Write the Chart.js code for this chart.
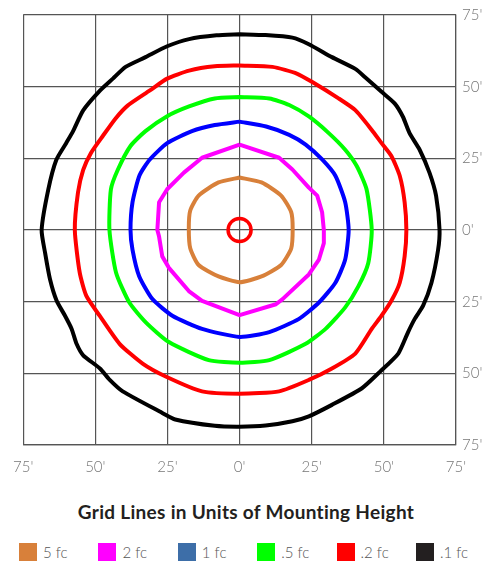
<!DOCTYPE html>
<html>
<head>
<meta charset="utf-8">
<script src="https://cdn.jsdelivr.net/npm/chart.js@4/dist/chart.umd.min.js"></script>
<style>
  body { margin: 0; background: #fff; font-family: Lato, "Noto Sans", sans-serif; }
  #wrap { position: relative; width: 495px; height: 564px; }
  #plot { position: absolute; left: 0; top: 0; width: 495px; height: 485px; }
  #title { position: absolute; left: 0; top: 500px; width: 492px; text-align: center;
           font-size: 19px; font-weight: bold; color: #231f20; letter-spacing: 0.3px; }
  .item { position: absolute; top: 543px; height: 18px; display: flex; align-items: center;
          font-size: 15px; font-weight: 300; color: #555; white-space: nowrap; }
  .item span.box { display: inline-block; width: 18px; height: 18px; margin-right: 6px; }
</style>
</head>
<body>
<div id="wrap">
  <div id="plot"><canvas id="chart"></canvas></div>
  <div id="title">Grid Lines in Units of Mounting Height</div>
  <div id="legend"></div>
</div>
<script>
// axis ticks (units of mounting height)
const gridTicks = [-75, -50, -25, 0, 25, 50, 75];
const tickLabels = ["75'", "50'", "25'", "0'", "25'", "50'", "75'"];

// legend
const legendLabels = ['5 fc', '2 fc', '1 fc', '.5 fc', '.2 fc', '.1 fc'];
const legendColors = ['#d8803a', '#ff00ff', '#3d6ea8', '#00ff00', '#ff0000', '#231f20'];
const lineColors = ['#d8803a', '#ff00ff', '#0000ff', '#00ff00', '#ff0000', '#000000'];

// isofootcandle contours, [x, y] in the grid units
const fc5 = [[0,18.3],[7.6,16.6],[14.4,12],[17.9,6.2],[18.4,0.4],[17.9,-6.4],[14.4,-12.2],[7.6,-16.2],
  [0,-18.2],[-7.3,-16.2],[-14.2,-12.2],[-17.1,-6.4],[-17.6,0.5],[-17.1,6.8],[-14.2,12],[-7.3,16.6],[0,18.3]];

const fc2 = [[0,29.8],[13.7,25.2],[18.3,21.1],[24,14.8],[26.9,12],[28.6,6.2],[29.2,0],[29.2,-4.6],
  [27.5,-10.3],[24,-15.5],[14.9,-24.1],[12.6,-25.9],[0,-29.7],[-13,-24.7],[-17.6,-21.3],[-24.5,-13.2],
  [-26.8,-9.2],[-27.9,-2.3],[-28.5,0],[-27.9,9.7],[-25.1,14.2],[-19.3,20],[-13,25.2],[0,29.8]];

const fc1 = [[0,37.8],[9.2,36.1],[17.2,33.2],[22.9,29.8],[28.6,24.6],[33.2,18.9],[36.6,9.7],[37.8,0],
  [36.6,-10.3],[33.2,-18.4],[27.5,-25.3],[20.6,-31],[10.3,-35.6],[0,-37.3],[-13,-34.5],[-23.3,-29.9],
  [-30.2,-24.1],[-34.8,-16.1],[-37.1,-6.9],[-37.8,0],[-37.1,9.7],[-34.7,19],[-31.2,24.5],[-25.1,30.3],
  [-16.5,34.5],[-8.6,36.6],[0,37.8]];

const fcHalf = [[0,46.4],[10.3,45.9],[17.2,43.6],[24,39.6],[30.9,33.8],[36.6,28],[40.6,22.3],[44,14.2],
  [45.8,0],[44.6,-11.5],[41.2,-19.6],[36.6,-27],[29.8,-34.5],[22.9,-39.7],[10.3,-45.4],[0,-46.3],
  [-10.7,-45.4],[-24.5,-39.1],[-32.5,-32.2],[-38.2,-25.3],[-42.8,-14.9],[-45.1,0],[-44.6,14.1],
  [-42.2,21],[-37.8,29.3],[-32.6,34.5],[-25.1,39.7],[-17.5,43.1],[-8.6,45.9],[0,46.4]];

const fcFifth = [[0,57.4],[11.4,56.9],[20,54.5],[25.2,51.6],[34.3,45.9],[40.1,41.8],[45.8,34.9],
  [49.2,30.3],[52.6,25.8],[55.5,18.9],[57.2,9.7],[57.8,0],[57.2,-9.2],[55.5,-18.4],[52.6,-24.7],
  [49.2,-29.9],[45.8,-34.5],[40.1,-43.1],[32,-48.3],[24,-52.3],[13.7,-56.3],[0,-57.1],[-13,-56.3],
  [-25.6,-51.1],[-33.6,-46.6],[-41.6,-39.7],[-48.5,-29.9],[-53.1,-23],[-55.4,-14.9],[-57.1,0],
  [-56,13.1],[-54.2,21],[-51.5,26.9],[-47.4,32.8],[-42.9,39],[-38.8,43.4],[-31.2,48.6],[-25.1,52.8],
  [-17.5,55.6],[-8.6,57.1],[0,57.4]];

const fcTenth = [[0,68.3],[9,68],[18.3,67.1],[24,64.8],[32,60.3],[40.1,56.2],[43.5,53.3],[49.2,48.2],
  [53.8,44.1],[56.6,39.5],[58.9,33.8],[62.4,28],[65.8,20],[68.1,11.9],[69.3,0],[68.8,-6.9],[66.5,-18.4],
  [63.6,-26.4],[60.7,-31],[58.4,-35.6],[55,-43.1],[48.7,-49.4],[42.4,-55.2],[32,-61],[24,-65],
  [18.3,-66.7],[9,-68.2],[0,-68.6],[-8.6,-68.3],[-22.3,-66.1],[-26.8,-63.8],[-40.5,-56.3],[-45,-52.3],
  [-48.4,-48.3],[-54.2,-43.7],[-56.5,-39.7],[-58.2,-34.5],[-60.5,-29.9],[-63.4,-24.7],[-65.7,-17.2],
  [-67.4,-8],[-68.6,0],[-66.3,14.1],[-63.5,24.5],[-60.1,30.3],[-57.7,34.5],[-54.2,41.7],[-48.4,48.6],
  [-43.9,52.8],[-39.5,56.9],[-32.6,60.3],[-25.1,64.1],[-17.5,66.6],[-8,67.9],[0,68.3]];

// luminaire position
const fixture = [[0, 0]];

const contours = [fc5, fc2, fc1, fcHalf, fcFifth, fcTenth];
const tensions = [0.2, 0, 0.2, 0.2, 0.2, 0.2];

const toPoints = arr => arr.map(p => ({ x: p[0], y: p[1] }));

const datasets = contours.map((c, i) => ({
    label: legendLabels[i],
    data: toPoints(c),
    showLine: true,
    borderColor: lineColors[i],
    borderWidth: 4,
    borderJoinStyle: 'round',
    pointRadius: 0,
    tension: tensions[i],
    fill: false
}));

datasets.push({
    label: 'fixture',
    data: toPoints(fixture),
    pointRadius: 11.5,
    pointBorderWidth: 3.5,
    pointBorderColor: '#ff0000',
    pointBackgroundColor: 'rgba(0,0,0,0)',
    showLine: false
});

const gridColor = '#555';
const tickFont = { family: 'Lato, "Noto Sans", sans-serif', size: 15, weight: '300' };

function axis(extra) {
    return Object.assign({
        type: 'linear',
        min: -75,
        max: 75,
        afterBuildTicks: scale => { scale.ticks = gridTicks.map(v => ({ value: v })); },
        ticks: {
            color: '#777',
            font: tickFont,
            callback: (v, i) => tickLabels[gridTicks.indexOf(v)]
        },
        grid: { color: gridColor, lineWidth: 1.2, drawTicks: false },
        border: { display: true, color: gridColor, width: 1.2 }
    }, extra);
}

const xAxis = axis({ position: 'bottom', afterFit: s => { s.height = 40; } });
xAxis.ticks.padding = 13;
const yAxis = axis({ position: 'right', afterFit: s => { s.width = 39; } });
yAxis.ticks.padding = 6;
yAxis.ticks.align = 'center';

new Chart(document.getElementById('chart').getContext('2d'), {
    type: 'scatter',
    data: { datasets },
    options: {
        responsive: true,
        maintainAspectRatio: false,
        animation: false,
        layout: { padding: { left: 19, top: 9, right: 0, bottom: 0 } },
        plugins: { legend: { display: false }, tooltip: { enabled: false } },
        scales: { x: xAxis, y: yAxis }
    }
});

// legend row
const legend = document.getElementById('legend');
legendLabels.forEach((lab, i) => {
    const d = document.createElement('div');
    d.className = 'item';
    d.style.left = (19 + i * 79.4) + 'px';
    d.innerHTML = `<span class="box" style="background:${legendColors[i]}"></span>${lab}`;
    legend.appendChild(d);
});
</script>
</body>
</html>
